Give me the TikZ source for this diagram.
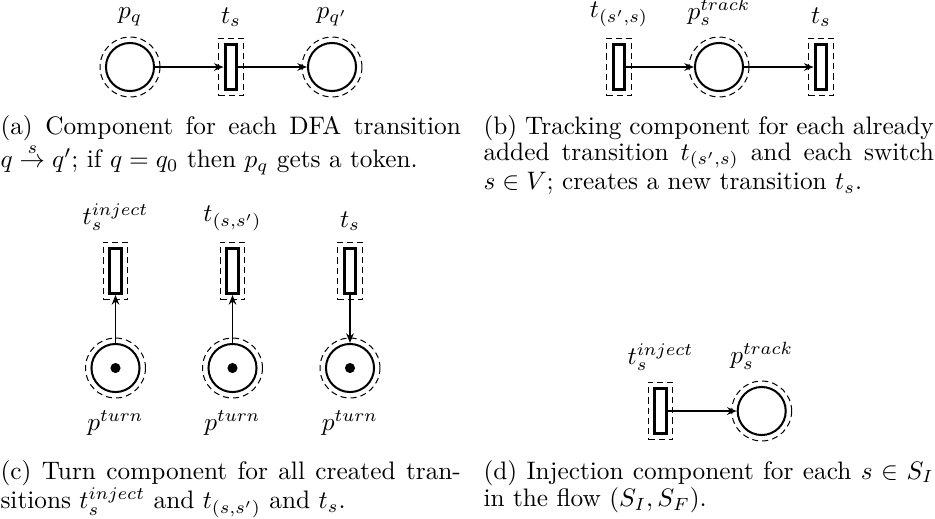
\documentclass[tikz,border=0pt]{standalone}
\usetikzlibrary{arrows.meta,positioning}
\begin{document}
\lineskiplimit=-6pt
\lineskip=0pt
\begin{tikzpicture}[x=0.3953pt,y=-0.3953pt,
  place/.style={circle, draw, line width=0.8pt, minimum size=19pt, inner sep=0pt},
  pdash/.style={circle, draw, line width=0.4pt, dash pattern=on 2.4pt off 1.6pt, minimum size=23.7pt, inner sep=0pt},
  trans/.style={rectangle, draw, line width=1.2pt, minimum width=4.7pt, minimum height=17.8pt, inner sep=0pt},
  tdash/.style={rectangle, draw, line width=0.4pt, dash pattern=on 2.4pt off 1.6pt, minimum width=9.5pt, minimum height=22.9pt, inner sep=0pt},
  token/.style={circle, fill, minimum size=4pt, inner sep=0pt},
  lbl/.style={inner sep=0pt},
  arr/.style={-{Stealth[length=3.8pt,width=3pt]}, line width=0.6pt},
  captxt/.style={inner sep=0pt, anchor=base west, align=justify,
    font=\fontsize{10pt}{8.8pt}\selectfont}]
\useasboundingbox (0,0) rectangle (935,518);

% ---------- (a) ----------
\node[place] (apq) at (130,67) {};
\node[pdash] (apqd) at (130,67) {};
\node[trans] (ats) at (231,67) {};
\node[tdash] (atsd) at (231,67) {};
\node[place] (apq2) at (332,67) {};
\node[pdash] (apq2d) at (332,67) {};
\node[lbl, above=4pt of apqd] (apqL) {$p_q$};
\node[lbl, above=4pt of atsd] (atsL) {$t_s$};
\node[lbl, above=4pt of apq2d] (apq2L) {$p_{q'}$};
\draw[arr] (apq) -- (ats);
\draw[arr] (ats) -- (apq2);
\node[captxt, text width=182pt] (capa) at (0,134)
  {(a) Component for each DFA transition\linebreak
   $q \stackrel{s}{\rightarrow} q'$; if $q = q_0$ then $p_q$ gets a token.};

% ---------- (b) ----------
\node[trans] (bt1) at (619,67) {};
\node[tdash] (bt1d) at (619,67) {};
\node[place] (bp) at (719,67) {};
\node[pdash] (bpd) at (719,67) {};
\node[trans] (bts) at (821,67) {};
\node[tdash] (btsd) at (821,67) {};
\node[lbl, above=4pt of bt1d] (bt1L) {$t_{(s',s)}$};
\node[lbl, above=4pt of bpd] (bpL) {$p_s^{track}$};
\node[lbl, above=4pt of btsd] (btsL) {$t_s$};
\draw[arr] (bt1) -- (bp);
\draw[arr] (bp) -- (bts);
\node[captxt, text width=178pt] (capb) at (483,134)
  {(b) Tracking component for each already\linebreak
   added transition $t_{(s',s)}$ and each switch\linebreak
   $s \in V$; creates a new transition $t_s$.};

% ---------- (c) ----------
\foreach \i/\x/\t in {1/115.5/{t_s^{inject}}, 2/232.5/{t_{(s,s')}}, 3/350/{t_s}} {
  \node[trans] (ct\i) at (\x,271) {};
  \node[tdash] (ct\i d) at (\x,271) {};
  \node[place] (cp\i) at (\x,368) {};
  \node[pdash] (cp\i d) at (\x,368) {};
  \node[token] (ck\i) at (\x,368) {};
  \node[lbl, above=4pt of ct\i d] (ct\i L) {$\t$};
  \node[lbl, below=4.7pt of cp\i d] (cp\i L) {$p^{turn}$};
}
\draw[arr] (cp1) -- (ct1);
\draw[arr] (cp2) -- (ct2);
\draw[arr] (ct3) -- (cp3);
\node[captxt, text width=182pt] (capc) at (0,479)
  {(c) Turn component for all created tran-\linebreak
   sitions $t_s^{inject}$ and $t_{(s,s')}$ and $t_s$.};

% ---------- (d) ----------
\node[trans] (dt) at (660.5,411) {};
\node[tdash] (dtd) at (660.5,411) {};
\node[place] (dp) at (761.7,411) {};
\node[pdash] (dpd) at (761.7,411) {};
\node[lbl, above=4pt of dtd] (dtL) {$t_s^{inject}$};
\node[lbl, above=4pt of dpd] (dpL) {$p_s^{track}$};
\draw[arr] (dt) -- (dp);
\node[captxt, text width=178pt] (capd) at (483,479)
  {(d) Injection component for each $s \in S_I$\linebreak
   in the flow $(S_I, S_F)$.};
\end{tikzpicture}
\end{document}
